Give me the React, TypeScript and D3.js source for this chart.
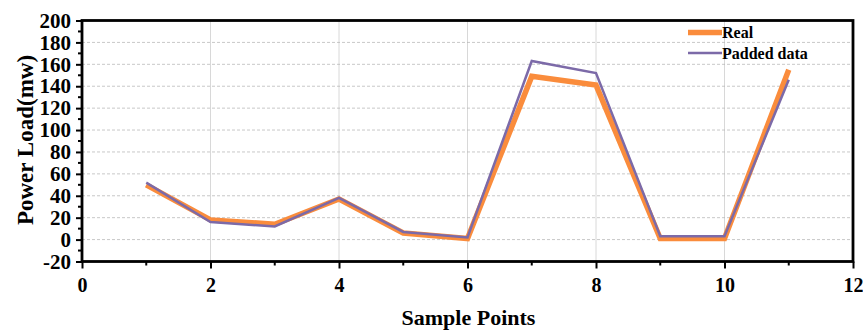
import React, { useEffect, useRef } from 'react';
import * as d3 from 'd3';

// sample points and the two series
const samplePoints = [1, 2, 3, 4, 5, 6, 7, 8, 9, 10, 11];
const realLoad = [50, 18, 14, 37, 6, 1, 149, 141, 1, 1, 155];
const paddedLoad = [52, 16, 12, 38, 7, 2, 163, 152, 3, 3, 146];
const xTicks = [0, 2, 4, 6, 8, 10, 12];
const yTicks = [-20, 0, 20, 40, 60, 80, 100, 120, 140, 160, 180, 200];

const seriesNames = ['Real', 'Padded data'];

const App = () => {
    const ref = useRef<SVGSVGElement>(null);

    useEffect(() => {
        const svg = d3.select(ref.current);
        svg.selectAll('*').remove();

        const margin = { top: 20.5, right: 10, bottom: 68.5, left: 82 };
        const width = 863 - margin.left - margin.right,
            height = 330 - margin.top - margin.bottom;
        const font = '"Liberation Serif", "Times New Roman", serif';

        const g = svg.append('g')
            .attr('transform', 'translate(' + margin.left + ',' + margin.top + ')');

        const x = d3.scaleLinear().domain([0, 12]).range([0, width]);
        const y = d3.scaleLinear().domain([-20, 200]).range([height, 0]);

        // grid lines
        g.append('g')
            .selectAll('line')
            .data(yTicks.filter(d => d > -20 && d < 200))
            .enter()
            .append('line')
            .attr('x1', 0).attr('x2', width)
            .attr('y1', d => y(d)).attr('y2', d => y(d))
            .attr('stroke', '#c8c8c8')
            .attr('stroke-width', 1)
            .attr('stroke-dasharray', '3,2');
        g.append('g')
            .selectAll('line')
            .data(xTicks.filter(d => d > 0 && d < 12))
            .enter()
            .append('line')
            .attr('y1', 0).attr('y2', height)
            .attr('x1', d => x(d)).attr('x2', d => x(d))
            .attr('stroke', '#b0b0b0')
            .attr('stroke-width', 1)
            .attr('stroke-dasharray', '1,1');

        // lines
        const line = d3.line<number>()
            .x((d, i) => x(samplePoints[i]))
            .y(d => y(d));
        g.append('path')
            .datum(realLoad)
            .attr('fill', 'none')
            .attr('stroke', '#FA8C3C')
            .attr('stroke-width', 5.5)
            .attr('d', line);
        g.append('path')
            .datum(paddedLoad)
            .attr('fill', 'none')
            .attr('stroke', '#7C6AA8')
            .attr('stroke-width', 2.5)
            .attr('d', line);

        // axes
        const xAxis = g.append('g')
            .attr('transform', 'translate(0,' + height + ')')
            .call(d3.axisBottom(x).tickValues(xTicks).tickSize(7).tickPadding(9).tickFormat(d => String(d)));
        xAxis.append('g')
            .selectAll('line')
            .data(d3.range(1, 12, 2))
            .enter()
            .append('line')
            .attr('x1', d => x(d)).attr('x2', d => x(d))
            .attr('y1', 0).attr('y2', 4)
            .attr('stroke', '#000')
            .attr('stroke-width', 2);
        const yAxis = g.append('g')
            .call(d3.axisLeft(y).tickValues(yTicks).tickSize(6).tickPadding(5).tickFormat(d => String(d)));
        yAxis.append('g')
            .selectAll('line')
            .data(d3.range(-10, 200, 20))
            .enter()
            .append('line')
            .attr('y1', d => y(d)).attr('y2', d => y(d))
            .attr('x1', 0).attr('x2', -4)
            .attr('stroke', '#000')
            .attr('stroke-width', 2);

        [xAxis, yAxis].forEach(a => {
            a.select('.domain').remove();
            a.selectAll('.tick line').attr('stroke', '#000').attr('stroke-width', 2);
            a.selectAll('.tick text')
                .style('font-family', font)
                .style('font-weight', 'bold')
                .style('font-size', '20px')
                .attr('fill', '#000');
        });
        yAxis.selectAll('.tick text').style('font-size', '21px');

        // frame
        g.append('rect')
            .attr('x', 0).attr('y', 0)
            .attr('width', width).attr('height', height)
            .attr('fill', 'none')
            .attr('stroke', '#000')
            .attr('stroke-width', 2.8);

        // legend
        const legend = g.append('g').attr('transform', 'translate(606,12)');
        const legendColors = ['#FA8C3C', '#7C6AA8'];
        const legendWidths = [5.5, 2.5];
        seriesNames.forEach((name, i) => {
            legend.append('line')
                .attr('x1', 0).attr('x2', 34)
                .attr('y1', i * 20.5).attr('y2', i * 20.5)
                .attr('stroke', legendColors[i])
                .attr('stroke-width', legendWidths[i]);
            legend.append('text')
                .attr('x', 34)
                .attr('y', i * 20.5 + 5.5)
                .style('font-family', font)
                .style('font-weight', 'bold')
                .style('font-size', '16px')
                .text(name);
        });

        // axis titles
        svg.append('text')
            .attr('x', margin.left + width / 2 + 1)
            .attr('y', 325)
            .attr('text-anchor', 'middle')
            .style('font-family', font)
            .style('font-weight', 'bold')
            .style('font-size', '22px')
            .text('Sample Points');
        svg.append('text')
            .attr('transform', 'translate(33,' + (margin.top + height / 2 - 1) + ') rotate(-90)')
            .attr('text-anchor', 'middle')
            .style('font-family', font)
            .style('font-weight', 'bold')
            .style('font-size', '23px')
            .text('Power Load(mw)');
    }, []);

    return (
        <svg ref={ref} width={863} height={330}
            style={{ position: 'absolute', left: 0, top: 0, background: '#fff' }} />
    );
};

export default App;
